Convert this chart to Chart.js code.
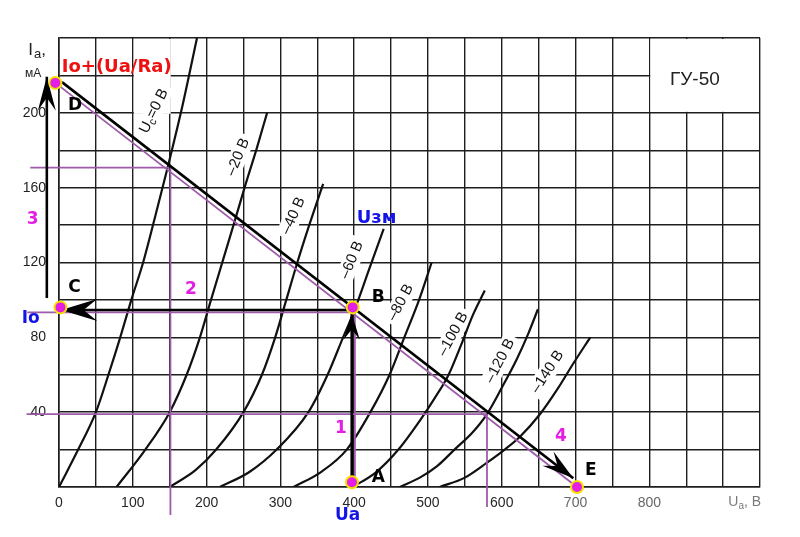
<!DOCTYPE html>
<html><head><meta charset="utf-8">
<script src="https://cdn.jsdelivr.net/npm/chart.js@4.4.1/dist/chart.umd.min.js"></script>
<style>html,body{margin:0;padding:0;background:#fff}canvas{display:block}</style>
</head><body>
<canvas id="c" width="800" height="537"></canvas>
<script>
// ===== data (Ua in V, Ia in mA) =====
const xTickLabels = [0,100,200,300,400,500,600,700,800];
const yTickLabels = [40,80,120,160,200];

const gridVoltLabels = ['0','–20 В','–40 В','–60 В','–80 В','–100 В','–120 В','–140 В'];

const curveUc0   = [[0,0],[26,20],[50,40],[67,60],[83,80],[98,100],[114,120],[130,144],[148,172],[168,205],[187,240]];
const curveUc20  = [[78,0],[117,20],[150,40],[173,60],[191,80],[206,100],[222,121],[238,142],[253,162],[268,181],[282,200]];
const curveUc40  = [[150,0],[185,9],[213,20],[250,40],[275,60],[293,80],[308,100],[323,120],[340,141],[358,162]];
const curveUc60  = [[218,0],[258,8],[295,20],[338,40],[364,60],[385,80],[400,94],[420,116],[440,138]];
const curveUc80  = [[318,0],[355,8],[390,20],[422,40],[448,60],[468,80],[488,100],[505,120]];
const curveUc100 = [[398,0],[430,8],[460,20],[490,36],[510,48],[528,60],[545,76],[561,92],[577,105]];
const curveUc120 = [[462,0],[489,5],[512,11],[536,20],[560,29],[580,39],[600,53],[620,68],[636,82],[649,95]];
const curveUc140 = [[516,0],[550,5],[580,13],[604,20],[625,27],[652,39],[675,52],[697,66],[720,80]];

// construction lines
const purple40   = [[-44,39],[580,39]];
const purple170  = [[-39,170.7],[149,170.7]];
const purple150v = [[151,170.7],[151,-15]];
const purple580v = [[580,39],[580,-10.7]];
const purple400v = [[401,0],[401,93.5]];
const purpleIo   = [[-43,93.3],[397,93.3]];
const purpleLoad = [[-5,216],[702,0]];

const arrowAB   = [[396.7,2.5],[396.7,92.8]];
const arrowBC   = [[397,94.6],[3,94.6]];
const arrow3    = [[-16.5,101],[-16.5,219.3]];
const arrowLoad = [[4,216.4],[697,4.7]];

const pointNames = ['D','C','B','A','E'];
const pointVals  = [[-5,216],[2,96],[398,96],[397,2.5],[702,0]];

// ===== styling / layout =====
const curves = [curveUc0,curveUc20,curveUc40,curveUc60,curveUc80,curveUc100,curveUc120,curveUc140];
const curveLabelPos = [[128.7,201,-64],[242.6,176.4,-67],[317.5,145,-66],[396.7,121.3,-67],[463,98.6,-62],[534,81.7,-61],[597.6,67.4,-62.5],[662,61.6,-57]];
const PURPLE = '#9d5ba9';
const toXY = a => a.map(p => ({x:p[0], y:p[1]}));

const datasets = [];
curves.forEach(c => datasets.push({data:toXY(c), showLine:true, borderColor:'#111', borderWidth:2.2, pointRadius:0, cubicInterpolationMode:'monotone', order:3}));
[purple40,purple170,purple150v,purple580v,purple400v,purpleIo,purpleLoad].forEach(l =>
  datasets.push({data:toXY(l), showLine:true, borderColor:PURPLE, borderWidth:1.8, pointRadius:0, clip:false, order:2}));
const blackArrows = [[arrowAB,26,8],[arrowBC,36,11],[arrow3,34,9],[arrowLoad,32,9]];
blackArrows.forEach(a =>
  datasets.push({data:toXY(a[0]), showLine:true, borderColor:'#000', borderWidth:2.6, pointRadius:0, clip:false, order:1}));
const dotsIndex = datasets.length;
datasets.push({data:toXY(pointVals), showLine:false, pointRadius:6, pointBackgroundColor:'#e41ee4', pointBorderColor:'#f4e300', pointBorderWidth:2, clip:false, order:0});

const texts = [
  {t:'Io+(Ua/Ra)', x:3.7, y:222, f:'bold 18px "DejaVu Sans"', c:'#ee1111'},
  {t:'D', x:12.2, y:201.5, f:'bold 17px "DejaVu Sans"', c:'#000'},
  {t:'C', x:12.6, y:104.4, f:'bold 17px "DejaVu Sans"', c:'#000'},
  {t:'B', x:424, y:99.1, f:'bold 17px "DejaVu Sans"', c:'#000'},
  {t:'A', x:424, y:2.8, f:'bold 17px "DejaVu Sans"', c:'#000'},
  {t:'E', x:712.8, y:6.4, f:'bold 17px "DejaVu Sans"', c:'#000'},
  {t:'Uзм', x:403.4, y:140.9, f:'bold 18px "DejaVu Sans"', c:'#1414e6'},
  {t:'Io', x:-50.5, y:87.9, f:'bold 17px "DejaVu Sans"', c:'#1414e6'},
  {t:'Ua', x:374, y:-17.6, f:'bold 17px "DejaVu Sans"', c:'#1414e6'},
  {t:'1', x:374, y:28.7, f:'bold 17px "DejaVu Sans"', c:'#e41ee4'},
  {t:'2', x:170.8, y:103.2, f:'bold 17px "DejaVu Sans"', c:'#e41ee4'},
  {t:'3', x:-43.8, y:140.6, f:'bold 17px "DejaVu Sans"', c:'#e41ee4'},
  {t:'4', x:672.2, y:24.7, f:'bold 17px "DejaVu Sans"', c:'#e41ee4'},
  {t:'ГУ-50', x:828, y:214.9, f:'19px "Liberation Sans"', c:'#222'},
  {t:'мА', x:-46, y:219, f:'12px "Liberation Sans"', c:'#222'}
];

function arrowHead(ctx, fx, fy, tx, ty, len, hw){
  const dx = tx-fx, dy = ty-fy, L = Math.hypot(dx,dy), ux = dx/L, uy = dy/L, nx = -uy, ny = ux;
  const bx = tx-ux*len, by = ty-uy*len, mx = tx-ux*len*0.62, my = ty-uy*len*0.62;
  ctx.beginPath();
  ctx.moveTo(tx,ty);
  ctx.lineTo(bx+nx*hw, by+ny*hw);
  ctx.lineTo(mx,my);
  ctx.lineTo(bx-nx*hw, by-ny*hw);
  ctx.closePath();
  ctx.fillStyle='#000'; ctx.fill();
}

function labelWidth(ctx, i){
  if(i===0){
    ctx.font='15px "Liberation Sans"'; let w=ctx.measureText('U').width+ctx.measureText('=0 В').width;
    ctx.font='11px "Liberation Sans"'; w+=ctx.measureText('c').width; return w;
  }
  ctx.font='15px "Liberation Sans"'; return ctx.measureText(gridVoltLabels[i]).width;
}

const annot = {
  id:'annot',
  beforeDatasetsDraw(chart){
    const ctx = chart.ctx, X = v=>chart.scales.x.getPixelForValue(v), Y = v=>chart.scales.y.getPixelForValue(v);
    ctx.save(); ctx.fillStyle='#fff';
    ctx.fillRect(X(800)+1, Y(240)+1, X(950)-X(800)-2, Y(200)-Y(240)-2);
    ctx.fillRect(X(100)+1, Y(240)+1, X(150)-X(100), Y(200)-Y(240));
    curveLabelPos.forEach((p,i)=>{
      const w = labelWidth(ctx,i);
      ctx.save(); ctx.translate(X(p[0]),Y(p[1])); ctx.rotate(p[2]*Math.PI/180);
      ctx.fillStyle='#fff'; ctx.fillRect(-w/2-4,-9,w+8,18); ctx.restore();
    });
    ctx.restore();
  },
  beforeDatasetDraw(chart,args){
    if(args.index!==dotsIndex) return;
    const ctx = chart.ctx, X = v=>chart.scales.x.getPixelForValue(v), Y = v=>chart.scales.y.getPixelForValue(v);
    ctx.save();
    blackArrows.forEach(a=>{
      const l=a[0]; arrowHead(ctx, X(l[0][0]),Y(l[0][1]), X(l[1][0]),Y(l[1][1]), a[1], a[2]);
    });
    ctx.restore();
  },
  afterDatasetsDraw(chart){
    const ctx = chart.ctx, X = v=>chart.scales.x.getPixelForValue(v), Y = v=>chart.scales.y.getPixelForValue(v);
    ctx.save();
    ctx.textBaseline='alphabetic'; ctx.textAlign='left';
    texts.forEach(o=>{ ctx.font=o.f; ctx.fillStyle=o.c; ctx.fillText(o.t, X(o.x), Y(o.y)); });
    let x0 = X(-41.6), y0 = Y(230.9);
    ctx.fillStyle='#222';
    ctx.font='17px "Liberation Sans"'; ctx.fillText('I', x0, y0); let w=ctx.measureText('I').width;
    ctx.font='13px "Liberation Sans"'; ctx.fillText('а', x0+w+1, y0+3); w+=ctx.measureText('а').width+1;
    ctx.font='17px "Liberation Sans"'; ctx.fillText(',', x0+w, y0);
    x0 = X(907); y0 = Y(-10.2);
    ctx.fillStyle='#7a7a7a';
    ctx.font='14px "Liberation Sans"'; ctx.fillText('U', x0, y0); w=ctx.measureText('U').width;
    ctx.font='10px "Liberation Sans"'; ctx.fillText('а', x0+w, y0+3); w+=ctx.measureText('а').width;
    ctx.font='14px "Liberation Sans"'; ctx.fillText(', В', x0+w, y0);
    ctx.fillStyle='#111'; ctx.textBaseline='middle';
    curveLabelPos.forEach((p,i)=>{
      const tw = labelWidth(ctx,i);
      ctx.save(); ctx.translate(X(p[0]),Y(p[1])); ctx.rotate(p[2]*Math.PI/180);
      if(i===0){
        let cx=-tw/2;
        ctx.font='15px "Liberation Sans"'; ctx.fillText('U',cx,0); cx+=ctx.measureText('U').width;
        ctx.font='11px "Liberation Sans"'; ctx.fillText('c',cx,4); cx+=ctx.measureText('c').width;
        ctx.font='15px "Liberation Sans"'; ctx.fillText('=0 В',cx,0);
      } else {
        ctx.font='15px "Liberation Sans"'; ctx.fillText(gridVoltLabels[i],-tw/2,0);
      }
      ctx.restore();
    });
    ctx.restore();
  }
};

new Chart(document.getElementById('c'), {
  type:'scatter',
  data:{datasets},
  plugins:[annot],
  options:{
    responsive:false, animation:false, events:[],
    layout:{padding:{left:0, top:38, right:40, bottom:0}},
    plugins:{legend:{display:false}, tooltip:{enabled:false}},
    scales:{
      x:{type:'linear', min:0, max:950,
        afterFit(s){ s.height = 50; },
        ticks:{stepSize:50, autoSkip:false, maxRotation:0, padding:8,
          font:{family:'Liberation Sans', size:14},
          color:(c)=> (c.tick && c.tick.value>=700) ? '#666' : '#262626',
          callback:(v)=> xTickLabels.includes(v) ? String(v) : ''},
        grid:{color:'#1e1e1e', lineWidth:1.4, drawTicks:false},
        border:{display:true, color:'#1e1e1e', width:1.6}
      },
      y:{type:'linear', min:0, max:240,
        afterFit(s){ s.width = 59; },
        ticks:{stepSize:20, autoSkip:false, padding:13,
          font:{family:'Liberation Sans', size:14}, color:'#1e1e1e',
          callback:(v)=> yTickLabels.includes(v) ? String(v) : ''},
        grid:{color:'#1e1e1e', lineWidth:1.4, drawTicks:false},
        border:{display:true, color:'#1e1e1e', width:1.6}
      }
    }
  }
});
</script>
</body></html>
